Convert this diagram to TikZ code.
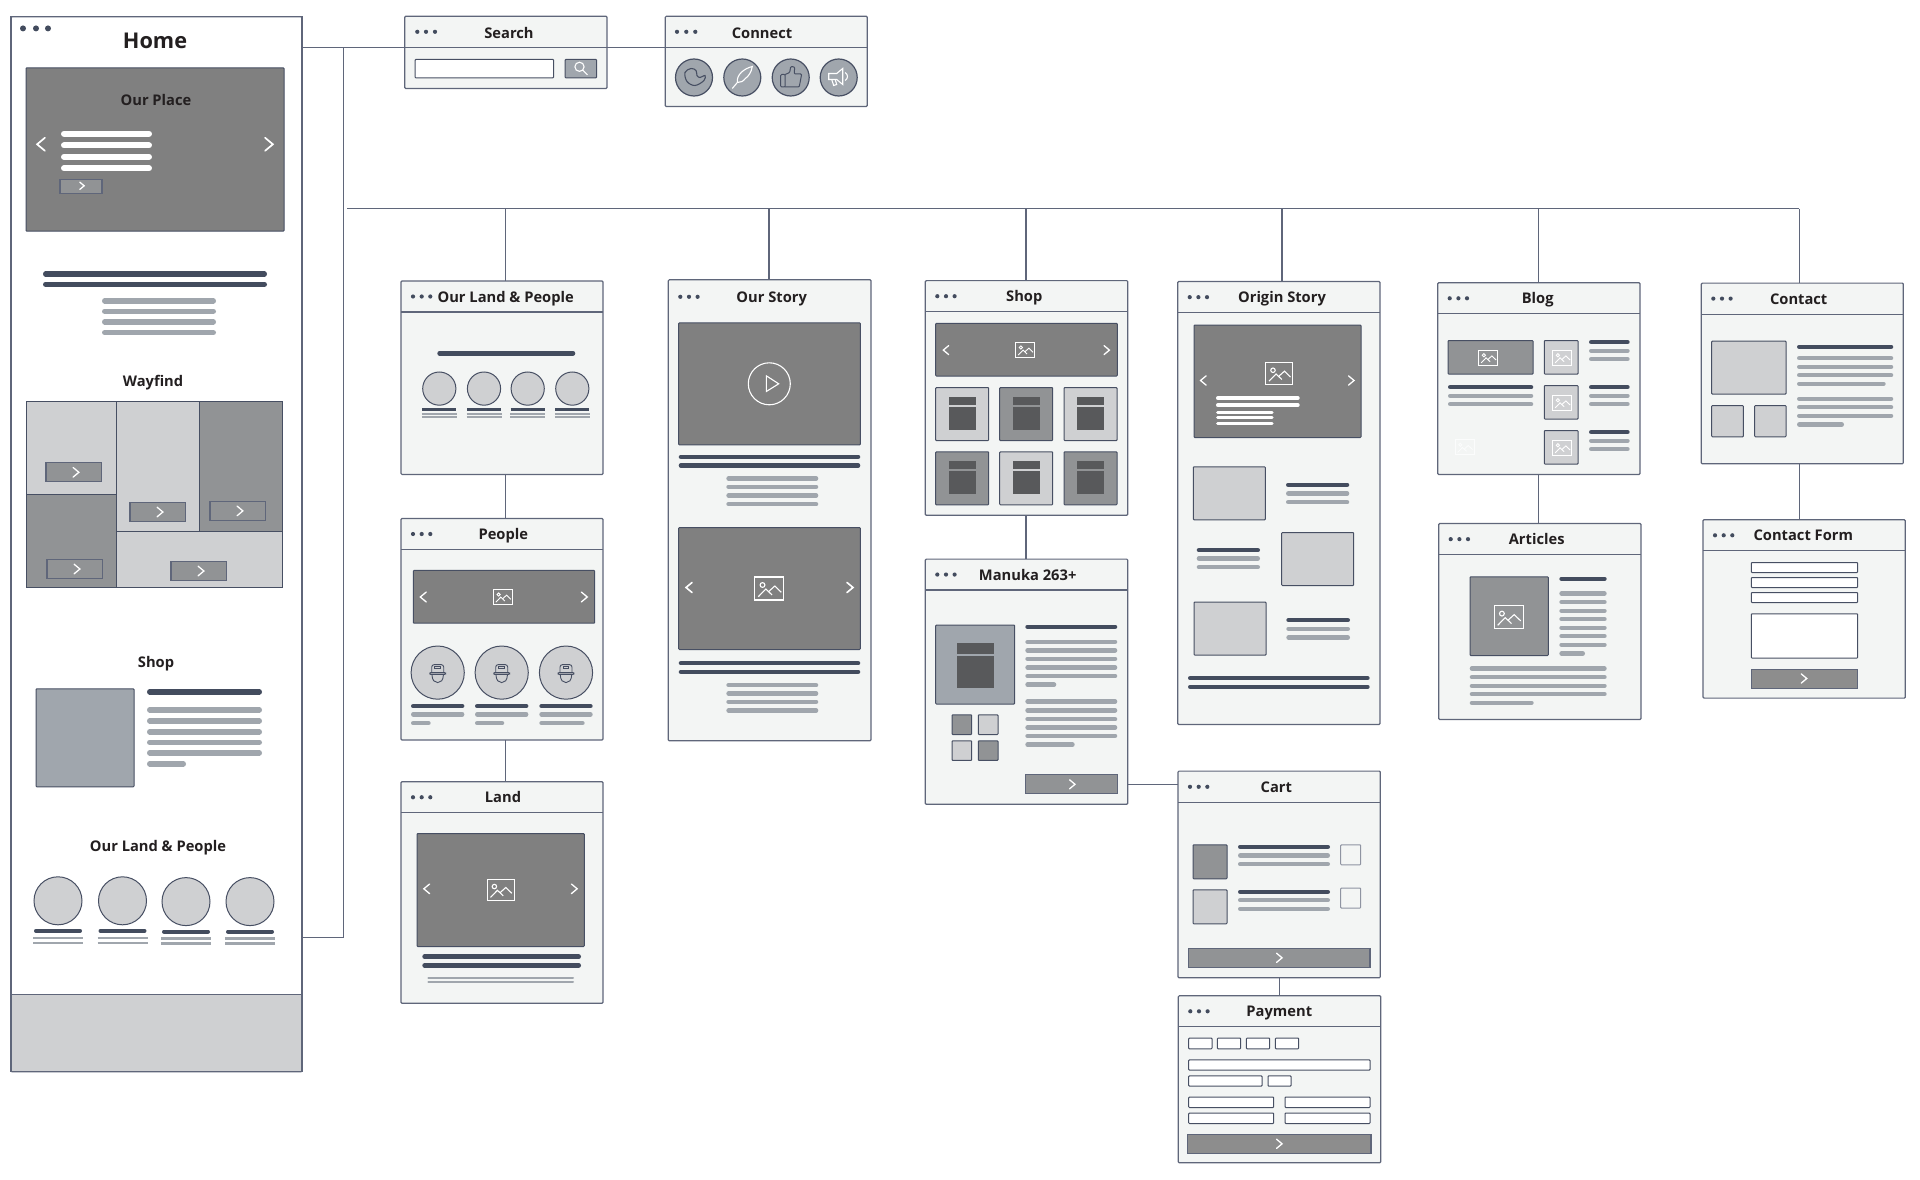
\documentclass[tikz,border=0pt]{standalone}
\usepackage{fontspec}
\setmainfont{Open Sans}
\usepackage{tikz}
\usetikzlibrary{fit, calc}
\definecolor{frameGrey}{HTML}{5F667A}
\definecolor{inkBlue}{HTML}{474F63}
\definecolor{barDark}{HTML}{434C5E}
\definecolor{barGrey}{HTML}{A0A6AD}
\definecolor{heroGrey}{HTML}{808080}
\definecolor{midGrey}{HTML}{919395}
\definecolor{lightGrey}{HTML}{CFD0D2}
\definecolor{panelGrey}{HTML}{F3F5F4}
\definecolor{iconDark}{HTML}{58595B}
\definecolor{textInk}{HTML}{231F20}

\tikzset{
  imgicon/.pic={
    \draw (-14.5,-11.5) rectangle (14.5,11.5);
    \draw (-6.8,-3.5) circle (2.4);
    \draw (-11,8.2) -- (-3.5,0.5) -- (2.8,6.5);
    \draw (-0.8,3.2) -- (5.5,-2.5) -- (12,3.8);
  },
  nextmark/.pic={\draw[line cap=round] (-0.6,-1) -- (0.6,0) -- (-0.6,1);},
  capface/.pic={
    \draw[rounded corners=2.5] (-6,0) -- (-6,-8) -- (6,-8) -- (6,0);
    \draw[rounded corners=1] (-8,0) rectangle (8,1.8);
    \draw (-5.8,1.8) .. controls (-5.5,8) and (-3,10) .. (0,10) .. controls (3,10) and (5.5,8) .. (5.8,1.8);
    \draw (-2.8,-6) rectangle (2.8,-4.2);
  }
}
\newcommand{\pagehead}[8]{%
  \node[pagebox, fit={(#2,#3)(#4,#5)}] (#1Page) {};
  \foreach \dx in {12,20.7,29.3} \fill[barDark] ({#2+\dx},{#6}) circle (2.1);
  \node[pagetitle] (#1Title) at (#7,{#6}) {#8};
}
\newcommand{\pagewin}[8]{%
  \pagehead{#1}{#2}{#3}{#4}{#5}{(#3+#6)/2}{#7}{#8}
  \draw[pageline] (#2,#6) -- (#4,#6);
}
\newcommand{\darkbars}[3]{\foreach \yy in {#3} \draw[darkbar] (#1,\yy) -- (#2,\yy);}
\newcommand{\greybars}[3]{\foreach \yy in {#3} \draw[greybar] (#1,\yy) -- (#2,\yy);}

\begin{document}
\begin{tikzpicture}[
  x=1pt, y=-1pt,
  pagebox/.style={rectangle, draw=frameGrey, fill=panelGrey, line width=1.2,
                  rounded corners=1, inner sep=0pt, outer sep=0pt},
  pageline/.style={draw=frameGrey, line width=1.2},
  pagetitle/.style={font=\fontsize{14.7}{15}\selectfont\bfseries, text=textInk, yshift=-1.6pt,
                    inner sep=0pt, text height=11pt, text depth=3pt},
  section/.style={pagetitle},
  link/.style={draw=frameGrey, line width=1.1},
  inbox/.style={draw=inkBlue, line width=1, rounded corners=0.8},
  hero/.style={inbox, fill=heroGrey},
  midbox/.style={inbox, fill=midGrey},
  lightbox/.style={inbox, fill=lightGrey},
  slatebox/.style={inbox, fill=barGrey},
  fieldbox/.style={inbox, fill=white},
  btnbox/.style={draw=frameGrey, line width=1.1, fill=midGrey},
  darkbar/.style={draw=barDark, line width=4.6, line cap=round,
                  shorten >=2.3pt, shorten <=2.3pt},
  greybar/.style={draw=barGrey, line width=4.6, line cap=round,
                  shorten >=2.3pt, shorten <=2.3pt},
  whitebar/.style={draw=white, line width=3.6, line cap=round,
                   shorten >=1.8pt, shorten <=1.8pt},
  chev/.style={color=white, line width=1.3},
  icon/.style={color=white, line width=1.1},
  iconink/.style={color=inkBlue, line width=1}
]
  \useasboundingbox (0,-0.8) rectangle (1920,1179.2);

  %% Home
  \node[pagebox, fill=white, fit={(11,16)(302,1071)}] (homePage) {};
  \fill[lightGrey] (11,994) rectangle (302,1071);
  \draw[pageline] (11,994) -- (302,994) (homePage.south west) rectangle (homePage.north east);
  \foreach \dx in {23,36,48} \fill[barDark] (\dx,27.6) circle (3);
  \node[pagetitle, font=\fontsize{21.7}{22}\selectfont\bfseries, yshift=-4pt] (homeTitle) at (155,38) {Home};

  \draw[hero] (26,67) rectangle (284,230.4);
  \node[section] (placeLabel) at (156,99.5) {Our Place};
  \foreach \yy in {132.8,144.7,156.1,167.6} \draw[whitebar, line width=6, shorten >=3pt, shorten <=3pt] (61,\yy) -- (152,\yy);
  \draw[btnbox] (60,178.3) rectangle (102,192.5);
  \pic[chev, scale=3.6] at (82,185) {nextmark};
  \pic[chev, scale=6.5, line width=1.7] at (269,143.5) {nextmark};
  \pic[chev, xscale=-6.5, yscale=6.5, line width=1.7] at (41,143.5) {nextmark};
  \begin{scope}[darkbar/.append style={line width=5.4, shorten >=2.7pt, shorten <=2.7pt},
                greybar/.append style={line width=5.4, shorten >=2.7pt, shorten <=2.7pt}]
    \darkbars{43}{267}{273.2,283.6}
    \greybars{102}{216}{300,310.4,321,331.8}
    \darkbars{147}{262}{691}
    \greybars{147}{262}{709,720,731,741.5,752}
    \greybars{147}{186}{763}
  \end{scope}

  \node[section] (wayLabel) at (153,380.4) {Wayfind};
  \draw[lightbox, rounded corners=0] (26,400.7) rectangle (116,493.7);
  \draw[midbox, rounded corners=0] (26,493.7) rectangle (116,586.3);
  \draw[lightbox, rounded corners=0] (116,400.7) rectangle (199,530.8);
  \draw[midbox, rounded corners=0] (199,400.7) rectangle (282,530.8);
  \draw[lightbox, rounded corners=0] (116,530.8) rectangle (282,586.3);
  \foreach \bx/\by in {46/462,130/501.7,210/500.6,47/558.7,171/560.7} {
    \draw[btnbox] (\bx,\by) rectangle ++(55.5,19);
    \pic[chev, scale=4.8] at (\bx+30,\by+9.5) {nextmark};
  }

  \node[section] (homeShopLabel) at (156,661) {Shop};
  \draw[slatebox] (36,688) rectangle (134,786);

  \node[section] (homeLandLabel) at (158,845) {Our Land \& People};
  \foreach \cx/\cy in {58/900,122.5/900,186/900.8,250/900.8} {
    \draw[lightbox] (\cx,\cy) circle (24);
    \draw[darkbar, line width=4, shorten >=2pt, shorten <=2pt] (\cx-24,\cy+30) -- (\cx+24,\cy+30);
    \draw[greybar, line width=2.6, shorten >=0pt, shorten <=0pt, line cap=butt] (\cx-25,\cy+37) -- (\cx+25,\cy+37);
    \draw[greybar, line width=2.6, shorten >=0pt, shorten <=0pt, line cap=butt] (\cx-25,\cy+42) -- (\cx+25,\cy+42);
  }

  %% Search and Connect
  \node[pagebox, fit={(404.7,15.5)(607,87.7)}] (searchPage) {};
  \draw[pageline] (404.7,46.7) -- (607,46.7);
  \foreach \dx in {12.6,21.3,30.3} \fill[barDark] (404.7+\dx,31) circle (2.1);
  \node[pagetitle] (searchTitle) at (509,32) {Search};
  \draw[fieldbox] (415,58.7) rectangle (553.7,77);
  \draw[slatebox] (565,58.7) rectangle (596.7,77);
  \draw[icon] (579.5,66) circle (4.6) (582.8,69.3) -- (587.5,74);

  \node[pagebox, fit={(665.3,15.5)(867.3,105.7)}] (connectPage) {};
  \draw[pageline] (665.3,46.7) -- (867.3,46.7);
  \foreach \dx in {11.7,21,30} \fill[barDark] (665.3+\dx,31) circle (2.1);
  \node[pagetitle] (connectTitle) at (762,32) {Connect};
  \foreach \cx in {694,742.3,790.7,838.7} \draw[slatebox, line width=1.2] (\cx,76.7) circle (18.5);
  \begin{scope}[shift={(694,76.7)}]
    \draw[iconink, line width=1.1] plot[smooth cycle, tension=.6] coordinates {(-9,-5)(-7,4)(1,8)(10,3)(11,-2)(6,0)(3,-2)(2,-7)(-3,-9)};
  \end{scope}
  \begin{scope}[shift={(742.3,76.7)}]
    \draw[icon] (-10,11) -- (-5,5) .. controls (-6,-3) and (2,-9) .. (10,-11) .. controls (9,-5) and (6,-1) .. (3,1) .. controls (1,4) and (-2,5) .. (-5,5);
  \end{scope}
  \begin{scope}[shift={(790.7,76.7)}, rounded corners=1]
    \draw[iconink] (-10,-3) rectangle (-5.5,9.5);
    \draw[iconink] (-5.5,-3) -- (-1,-5) -- (0,-11) -- (4,-10.5) -- (3.5,-3.5) -- (11,-3.5) -- (8.5,9.5) -- (-5.5,9.5);
  \end{scope}
  \begin{scope}[shift={(838.7,76.7)}]
    \draw[icon] (-10,-4) -- (-2,-4) -- (4,-9) -- (4,7) -- (-2,2) -- (-10,2) -- cycle;
    \draw[icon] (-7,2) -- (-5,8) -- (-2,7) -- (-3.5,2);
    \draw[icon] (6.5,-5) .. controls (9.5,-3) and (9.5,1) .. (6.5,3);
  \end{scope}

  %% Our Land & People column
  \pagewin{ourLand}{401}{280.2}{603}{473.6}{311.2}{505.7}{Our Land \& People}
  \darkbars{437.3}{575.3}{352.4}
  \foreach \cx in {439.3,484,527.7,572.3} {
    \draw[lightbox] (\cx,387.8) circle (16.6);
    \draw[darkbar, line width=2.4, line cap=butt, shorten >=0pt, shorten <=0pt] (\cx-17,408.6) -- (\cx+17,408.6);
    \draw[greybar, line width=1.6, line cap=butt, shorten >=0pt, shorten <=0pt] (\cx-17.5,413) -- (\cx+17.5,413);
    \draw[greybar, line width=1.6, line cap=butt, shorten >=0pt, shorten <=0pt] (\cx-17.5,416.4) -- (\cx+17.5,416.4);
  }

  \pagewin{people}{401}{517.7}{603}{739.2}{548.7}{503.3}{People}
  \draw[hero] (413.3,569.6) rectangle (594.7,622.4);
  \pic[chev, scale=5] at (584.3,596.2) {nextmark};
  \pic[chev, xscale=-5, yscale=5] at (423.3,596.2) {nextmark};
  \pic[icon, scale=0.65, line width=0.9] at (503,596) {imgicon};
  \foreach \cx/\ax/\bx in {437.7/411/430.7,501.7/475/504.3,566/539.3/584.7} {
    \draw[lightbox] (\cx,671.8) circle (26.6);
    \pic[iconink, line width=0.9] at (\cx,671.8) {capface};
    \draw[darkbar] (\cx-26.7,705.3) -- (\cx+26.7,705.3);
    \draw[greybar] (\cx-26.7,713.5) -- (\cx+26.7,713.5);
    \draw[greybar] (\ax,722.3) -- (\bx,722.3);
  }

  \pagewin{land}{401}{780.9}{603}{1002.4}{812}{503}{Land}
  \draw[hero] (417,832.8) rectangle (584.3,945.7);
  \pic[chev, scale=4.8] at (574.3,888) {nextmark};
  \pic[chev, xscale=-4.8, yscale=4.8] at (426.7,888) {nextmark};
  \pic[icon, scale=0.93] at (500.7,889) {imgicon};
  \darkbars{422.3}{581}{955.9,964.6}
  \foreach \yy in {976.7,981.6} \draw[greybar, line width=2, shorten >=1pt, shorten <=1pt] (427.3,\yy) -- (574,\yy);

  %% Our Story
  \pagehead{ourStory}{668.3}{279}{871}{740}{296}{771.7}{Our Story}
  \draw[hero] (678.7,322) rectangle (860.3,444);
  \draw[icon] (769.3,383) circle (21);
  \draw[icon] (766.3,375) -- (778.7,383) -- (766.3,390.7) -- cycle;
  \darkbars{678.7}{860.3}{456,464.7}
  \greybars{726.3}{818.3}{477.7,486,494.7,503.3}
  \draw[hero] (678.7,526.7) rectangle (860.3,648.7);
  \pic[chev, scale=5, line width=1.6] at (850,586.7) {nextmark};
  \pic[chev, xscale=-5, yscale=5, line width=1.6] at (689,586.7) {nextmark};
  \pic[icon] at (769.3,587.7) {imgicon};
  \darkbars{678.7}{860.3}{662.3,671}
  \greybars{726.3}{818.3}{684.3,692.7,701,709.7}

  %% Shop
  \pagewin{shop}{925.3}{279.8}{1127.7}{514.5}{311}{1024.3}{Shop}
  \draw[hero] (935.7,322.6) rectangle (1117.3,375.2);
  \pic[chev, scale=4.5] at (1106.7,349.3) {nextmark};
  \pic[chev, xscale=-4.5, yscale=4.5] at (946,349.3) {nextmark};
  \pic[icon, scale=0.65, line width=0.9] at (1025.3,349) {imgicon};
  \foreach \tx/\ty/\tf in {935.7/386.8/lightbox,999.7/386.8/midbox,1064/386.8/lightbox,
                           935.7/451/midbox,999.7/451/lightbox,1064/451/midbox} {
    \draw[\tf] (\tx,\ty) rectangle ++(53,53);
    \fill[iconDark] (\tx+13,\ty+9.5) rectangle ++(27.3,7.7);
    \fill[iconDark] (\tx+13,\ty+19.2) rectangle ++(27.3,23.2);
  }

  \pagewin{manuka}{925.3}{558.3}{1127.7}{803.5}{589.2}{1027.7}{Manuka 263+}
  \draw[slatebox] (935.7,624.3) rectangle (1014.7,703.2);
  \fill[iconDark] (957.3,642) rectangle (994,652.7);
  \fill[iconDark] (957.3,655.5) rectangle (994,686.7);
  \draw[midbox] (952,714) rectangle (971.7,733.7);
  \draw[lightbox] (978.3,714) rectangle (998,733.7);
  \draw[lightbox] (952,740) rectangle (971.7,759.6);
  \draw[midbox] (978.3,740) rectangle (998,759.6);
  \darkbars{1025.3}{1117.3}{626}
  \greybars{1025.3}{1117.3}{641.1,649.5,658,666.7,675.2,700.7,709.5,718.3,726.7,735.1}
  \greybars{1025.3}{1056.3}{683.9}
  \greybars{1025.3}{1074.7}{743.9}
  \draw[btnbox] (1025.3,774) rectangle (1117.3,793);
  \pic[chev, scale=4.5] at (1072.3,783.5) {nextmark};

  %% Origin Story
  \pagewin{origin}{1177.7}{280.7}{1380}{723.7}{312}{1282}{Origin Story}
  \draw[hero] (1194,324.3) rectangle (1361,436.7);
  \pic[chev, scale=4.6] at (1351.3,379.7) {nextmark};
  \pic[chev, xscale=-4.6, yscale=4.6] at (1203.3,379.7) {nextmark};
  \pic[icon, scale=0.93] at (1279.3,372.7) {imgicon};
  \foreach \yy in {397.3,404.3} \draw[whitebar] (1216,\yy) -- (1299.7,\yy);
  \foreach \yy in {411.7,417,422.3} \draw[whitebar, line width=3, shorten >=1.5pt, shorten <=1.5pt] (1216,\yy) -- (1273.7,\yy);
  \draw[lightbox] (1193.3,466) rectangle (1265.3,519);
  \draw[lightbox] (1281.7,531.7) rectangle (1353.7,584.7);
  \draw[lightbox] (1194,601.3) rectangle (1266,654.3);
  \darkbars{1286}{1349.3}{484}
  \greybars{1286}{1349.3}{492.7,501.3}
  \darkbars{1196.7}{1260}{549.3}
  \greybars{1196.7}{1260}{557.7,566.3}
  \darkbars{1286.3}{1350}{619.3}
  \greybars{1286.3}{1350}{628,636.7}
  \darkbars{1188}{1369.7}{677.3,686}

  %% Cart and Payment
  \pagewin{cart}{1178}{770.3}{1380.3}{977}{801.7}{1276.3}{Cart}
  \draw[midbox] (1193,844) rectangle (1227,878);
  \draw[lightbox] (1193,889) rectangle (1227,923);
  \darkbars{1238}{1330}{846,891}
  \greybars{1238}{1330}{854.7,863.3,899.3,908}
  \draw[inbox, draw=frameGrey!70, fill=panelGrey] (1340.7,844) rectangle (1360.7,864);
  \draw[inbox, draw=frameGrey!70, fill=panelGrey] (1340.7,887.3) rectangle (1360.7,907.3);
  \draw[btnbox] (1188.7,948) rectangle (1370,966.7);
  \pic[chev, scale=4.6] at (1279.3,957) {nextmark};

  \pagewin{payment}{1178.3}{995}{1380.7}{1162}{1026}{1279.3}{Payment}
  \foreach \ax/\bx in {1188.7/1212,1217.3/1240.7,1246.3/1269.7,1275.3/1298.7}
    \draw[fieldbox] (\ax,1037.3) rectangle (\bx,1048);
  \draw[fieldbox] (1188.7,1059) rectangle (1370,1069.3);
  \draw[fieldbox] (1188.7,1075) rectangle (1262,1085.3);
  \draw[fieldbox] (1268,1075) rectangle (1291,1085.3);
  \foreach \yy in {1096.3,1112.3} {
    \draw[fieldbox] (1188.7,\yy) rectangle (1273.7,\yy+10.4);
    \draw[fieldbox] (1285,\yy) rectangle (1370,\yy+10.4);
  }
  \draw[btnbox, fill=heroGrey!90!white] (1187.7,1133.7) rectangle (1371,1152.7);
  \pic[chev, scale=4.6] at (1279.3,1143) {nextmark};

  %% Blog and Articles
  \pagewin{blog}{1437.7}{282}{1640}{473.7}{313}{1537.7}{Blog}
  \draw[midbox] (1448,339.7) rectangle (1533,373.3);
  \pic[icon, scale=0.65, line width=0.9] at (1488.3,356.7) {imgicon};
  \darkbars{1448}{1533.3}{386.3}
  \greybars{1448}{1533.3}{395,403.3}
  \pic[icon, scale=0.65, line width=0.9, color=white!70!panelGrey] at (1464.7,446.3) {imgicon};
  \foreach \ty in {339.7,384.7,429.7} {
    \draw[lightbox] (1544.3,\ty) rectangle (1578,\ty+33.6);
    \pic[icon, scale=0.65, line width=0.9] at (1562.3,\ty+17) {imgicon};
    \darkbars{1589}{1629.7}{\ty+1.6}
    \greybars{1589}{1629.7}{\ty+10.3,\ty+18.6}
  }

  \pagewin{articles}{1438.7}{522.7}{1641}{718.7}{554}{1536.7}{Articles}
  \draw[midbox] (1470,576) rectangle (1548.3,654.7);
  \pic[icon] at (1508.7,616.3) {imgicon};
  \darkbars{1559.3}{1606.7}{578}
  \greybars{1559.3}{1606.7}{592.7,601.3,610,618.3,627,635.3,644}
  \greybars{1559.3}{1585}{652.7}
  \greybars{1469.7}{1606.7}{667.7,676.3,685,693.3}
  \greybars{1469.7}{1533.7}{702}

  %% Contact and Contact Form
  \pagewin{contact}{1701.3}{282.3}{1903.3}{463}{313.3}{1798.7}{Contact}
  \draw[lightbox] (1711.7,340.3) rectangle (1786,393.3);
  \draw[lightbox] (1711.7,404.7) rectangle (1743.3,436);
  \draw[lightbox] (1754.7,404.7) rectangle (1786,436);
  \darkbars{1797}{1893.3}{346}
  \greybars{1797}{1893.3}{357.3,366,374.3,398,406.3,415}
  \greybars{1797}{1885.7}{383}
  \greybars{1797}{1844}{423.7}

  \pagewin{contactForm}{1703}{519}{1905.3}{697.3}{550}{1803.3}{Contact Form}
  \foreach \yy in {561.7,576.7,591.7} \draw[fieldbox] (1751.3,\yy) rectangle (1857.7,\yy+10);
  \draw[fieldbox] (1751.3,613) rectangle (1857.7,657.3);
  \draw[btnbox, fill=heroGrey!90!white] (1751.3,668.7) rectangle (1857.7,687.3);
  \pic[chev, scale=4.6] at (1804,677.7) {nextmark};

  %% Connectors
  \coordinate (navRow) at (343.7,46.7);
  \coordinate (navFoot) at (343.7,937);
  \coordinate (busStart) at (347,207.8);
  \coordinate (cartRow) at (1150,783.9);
  \draw[link] (homePage.east |- navRow) -- (connectPage.west |- navRow);
  \draw[link] (navRow) -- (navFoot) -- (homePage.east |- navFoot);
  \draw[link] (busStart) -- ([xshift=-3pt]contactPage.north |- busStart);
  \foreach \pg/\dx in {ourLand/3.3,ourStory/-0.7,shop/-0.5,origin/3.1,blog/-0.5,contact/-3}
    \draw[link] ([xshift=\dx pt]\pg Page.north |- busStart) -- ([xshift=\dx pt]\pg Page.north);
  \foreach \a/\b/\dx in {ourLand/people/3.3,people/land/3.3,shop/manuka/-0.5,cart/payment/0,
                         blog/articles/-0.5,contact/contactForm/-3}
    \draw[link] ([xshift=\dx pt]\a Page.south) -- ([xshift=\dx pt]\a Page.south |- \b Page.north);
  \draw[link] (manukaPage.east |- cartRow) -- (cartPage.west |- cartRow);
\end{tikzpicture}
\end{document}
